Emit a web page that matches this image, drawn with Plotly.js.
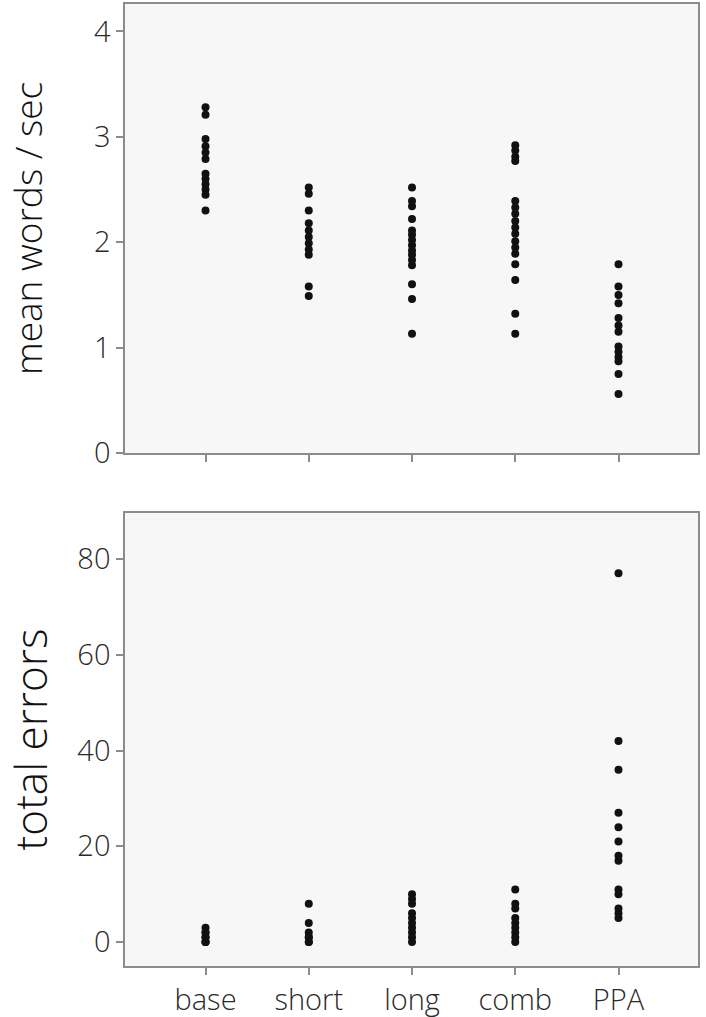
<!DOCTYPE html>
<html>
<head>
<meta charset="utf-8">
<script src="https://cdn.plot.ly/plotly-3.0.1.min.js"></script>
<style>
  html, body { margin: 0; padding: 0; background: #fff; }
  #chart { width: 706px; height: 1017px; }
</style>
</head>
<body>
<div id="chart"></div>
<script>
// conditions along the x axis
var conditions = ['base', 'short', 'long', 'comb', 'PPA'];

// mean words / sec, one value per participant
var rateBase  = [3.28, 3.21, 2.98, 2.91, 2.85, 2.79, 2.65, 2.6, 2.55, 2.5, 2.45, 2.3];
var rateShort = [2.52, 2.46, 2.3, 2.18, 2.11, 2.05, 1.99, 1.93, 1.88, 1.58, 1.49];
var rateLong  = [2.52, 2.39, 2.34, 2.22, 2.11, 2.07, 2.02, 1.97, 1.92, 1.88, 1.83, 1.78, 1.6, 1.46, 1.13];
var rateComb  = [2.92, 2.87, 2.81, 2.77, 2.39, 2.33, 2.27, 2.2, 2.14, 2.08, 2.01, 1.95, 1.89, 1.79, 1.64, 1.32, 1.13];
var ratePPA   = [1.79, 1.58, 1.5, 1.42, 1.28, 1.21, 1.15, 1.01, 0.96, 0.91, 0.87, 0.75, 0.56];

// total errors, bottom panel
var errBase  = [3, 2, 2, 1, 1, 0, 0, 0];
var errShort = [8, 4, 2, 1, 1, 0, 0];
var errLong  = [10, 9, 8, 6, 5, 4, 3, 2, 1, 0];
var errComb  = [11, 8, 7, 5, 4, 3, 2, 1, 0];
var errPPA   = [77, 42, 36, 27, 24, 21, 18, 17, 11, 10, 7, 6, 5];

var rates = [rateBase, rateShort, rateLong, rateComb, ratePPA];
var errs = [errBase, errShort, errLong, errComb, errPPA];

function column(vals, cat, xa, ya) {
    return {
        x: vals.map(function () { return cat; }),
        y: vals,
        xaxis: xa,
        yaxis: ya,
        type: 'scatter',
        mode: 'markers',
        marker: {color: '#111', size: 8},
        hoverinfo: 'y'
    };
}

var data = [];
conditions.forEach(function (c, i) {
    data.push(column(rates[i], c, 'x', 'y'));
    data.push(column(errs[i], c, 'x2', 'y2'));
});

var axisLine = {
    showline: true,
    mirror: true,
    linecolor: '#8c8c8c',
    linewidth: 1.5,
    showgrid: false,
    zeroline: false,
    ticks: 'outside',
    ticklen: 7,
    tickwidth: 1.5,
    tickcolor: '#8c8c8c'
};

var tickFont = {family: 'Open Sans, sans-serif', size: 29, weight: 300, color: '#2a2a2a'};

var layout = {
    width: 706,
    height: 1017,
    margin: {l: 125, r: 8, t: 4, b: 51},
    paper_bgcolor: '#fff',
    plot_bgcolor: '#f7f7f7',
    showlegend: false,
    xaxis: Object.assign({}, axisLine, {
        type: 'category',
        categoryarray: conditions,
        range: [-0.78, 4.77],
        domain: [0, 1],
        anchor: 'y',
        showticklabels: false
    }),
    yaxis: Object.assign({}, axisLine, {
        domain: [0.5333, 1],
        range: [0, 4.26],
        tickvals: [0, 1, 2, 3, 4],
        tickfont: tickFont,
        title: {
            text: 'mean words / sec',
            font: {family: 'Open Sans, sans-serif', size: 37, weight: 300, color: '#111'},
            standoff: 40
        }
    }),
    xaxis2: Object.assign({}, axisLine, {
        type: 'category',
        categoryarray: conditions,
        range: [-0.78, 4.77],
        domain: [0, 1],
        anchor: 'y2',
        tickfont: {family: 'Open Sans, sans-serif', size: 29, weight: 300, color: '#2a2a2a'}
    }),
    yaxis2: Object.assign({}, axisLine, {
        domain: [0, 0.4709],
        range: [-5, 89.6],
        tickvals: [0, 20, 40, 60, 80],
        tickfont: tickFont,
        title: {
            text: 'total errors',
            font: {family: 'Open Sans, sans-serif', size: 44, weight: 300, color: '#111'},
            standoff: 24
        }
    })
};

Plotly.newPlot('chart', data, layout, {displayModeBar: false});
</script>
</body>
</html>
